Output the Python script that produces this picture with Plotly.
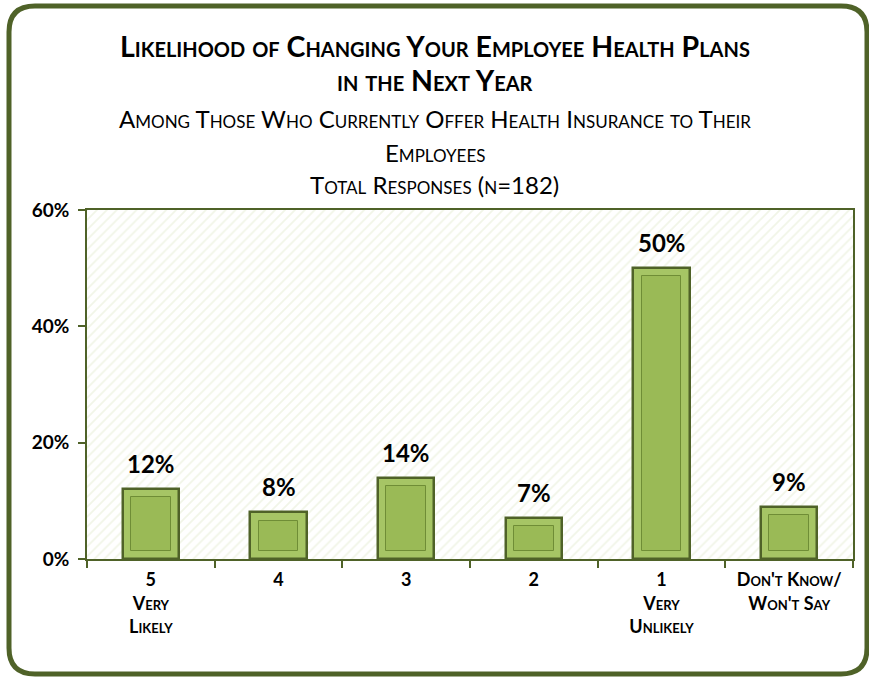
import plotly.graph_objects as go

categories = ["5<br>Very<br>Likely", "4", "3", "2", "1<br>Very<br>Unlikely", "Don't Know/<br>Won't Say"]
values = [12, 8, 14, 7, 50, 9]
value_labels = ["12%", "8%", "14%", "7%", "50%", "9%"]
y_ticks = [0, 20, 40, 60]
y_tick_labels = ["0%", "20%", "40%", "60%"]

title_lines = ["Likelihood of Changing Your Employee Health Plans", "in the Next Year"]
subtitle_lines = ["Among Those Who Currently Offer Health Insurance to Their", "Employees", "Total Responses (n=182)"]

OLIVE = "#4f6228"
FONT = "Lato"

pos = list(range(len(categories)))
n = len(categories)
boundaries = [i - 0.5 for i in range(n + 1)]

fig = go.Figure()

# hatched plot background
fig.add_trace(go.Bar(
    x=[(n - 1) / 2], y=[60], width=[n],
    marker=dict(color="white", line=dict(width=0),
                pattern=dict(shape="/", fgcolor="#e3ebd0", bgcolor="white", size=7, solidity=0.25)),
    hoverinfo="skip", showlegend=False,
))

# outer bevel frame
fig.add_trace(go.Bar(
    x=pos, y=values, width=0.44,
    marker=dict(color="#a6c565", line=dict(color=OLIVE, width=2.5)),
    showlegend=False, hoverinfo="skip",
))
# inner face
inset = 1.4
fig.add_trace(go.Bar(
    x=pos, y=[v - 2 * inset for v in values], base=inset, width=0.31,
    marker=dict(color="#9aba56", line=dict(color="#6f8d36", width=1)),
    showlegend=False, hoverinfo="skip",
))

for p, v, t in zip(pos, values, value_labels):
    fig.add_annotation(x=p, y=v, text="<b>" + t + "</b>", showarrow=False,
                       yanchor="bottom", yshift=9,
                       font=dict(family=FONT, size=24, color="black"))

# titles
cx = (434.5 - 87) / 766
def py(p):
    return (559 - p) / 349

title_y = [46, 80]
for t, yy in zip(title_lines, title_y):
    fig.add_annotation(xref="paper", yref="paper", x=cx, y=py(yy), text="<b>" + t + "</b>",
                       showarrow=False, yanchor="middle", xanchor="center",
                       font=dict(family=FONT, size=28.5, color="black", variant="small-caps"))
sub_y = [118, 152, 185]
for t, yy in zip(subtitle_lines, sub_y):
    fig.add_annotation(xref="paper", yref="paper", x=cx, y=py(yy), text=t,
                       showarrow=False, yanchor="middle", xanchor="center",
                       font=dict(family=FONT, size=24, color="black", variant="small-caps"))

# outer rounded border
x0, x1 = (9 - 87) / 766, (867 - 87) / 766
y0, y1 = py(674), py(6)
rx, ry = 26 / 766, 26 / 349
path = (f"M {x0+rx},{y1} L {x1-rx},{y1} Q {x1},{y1} {x1},{y1-ry} "
        f"L {x1},{y0+ry} Q {x1},{y0} {x1-rx},{y0} L {x0+rx},{y0} "
        f"Q {x0},{y0} {x0},{y0+ry} L {x0},{y1-ry} Q {x0},{y1} {x0+rx},{y1} Z")
fig.add_shape(type="path", path=path, xref="paper", yref="paper",
              line=dict(color=OLIVE, width=5), layer="above")

fig.update_layout(
    width=869, height=679,
    margin=dict(l=87, r=16, t=210, b=120),
    paper_bgcolor="white", plot_bgcolor="white",
    barmode="overlay", bargap=0,
    showlegend=False,
    xaxis=dict(range=[-0.5, n - 0.5], tickvals=pos, ticktext=categories,
               ticks="", ticklabelstandoff=4,
               minor=dict(tickvals=boundaries, ticks="outside", ticklen=7,
                          tickcolor=OLIVE, tickwidth=1.5, showgrid=False),
               showline=True, linecolor=OLIVE, linewidth=1.5, mirror=True,
               showgrid=False, zeroline=False,
               tickfont=dict(family=FONT, size=18, color="black", weight="bold", variant="small-caps")),
    yaxis=dict(range=[0, 60], tickvals=y_ticks, ticktext=y_tick_labels,
               ticks="outside", ticklen=7, tickcolor=OLIVE, tickwidth=1.5,
               ticklabelstandoff=5,
               showline=True, linecolor=OLIVE, linewidth=1.5, mirror=True,
               showgrid=True, gridcolor=OLIVE, gridwidth=1.5, zeroline=False,
               tickfont=dict(family=FONT, size=19, color="black", weight="bold")),
)

fig.write_html("out.html")
